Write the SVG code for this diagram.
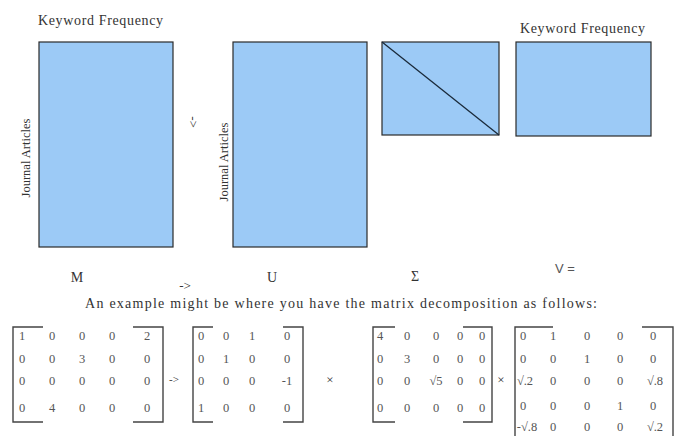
<svg xmlns="http://www.w3.org/2000/svg" width="680" height="436" viewBox="0 0 680 436">
<style>
.box{fill:#9ccaf6;stroke:#2a2a2a;stroke-width:1.2}
.lbl{font-family:"Liberation Serif",serif;fill:#333;font-size:14px}
.rot{font-family:"Liberation Serif",serif;fill:#333;font-size:12.5px}
.m text{font-family:"Liberation Serif",serif;fill:#555;font-size:12.5px;text-anchor:middle}
.br{fill:none;stroke:#444;stroke-width:1.4}
.big{font-family:"Liberation Serif",serif;fill:#333;font-size:13px;text-anchor:middle}
.nm{font-family:"Liberation Serif",serif;fill:#333;font-size:14px;text-anchor:middle}
</style>
<rect width="680" height="436" fill="#fff"/>
<g id="matrix-M-block">
<text class="lbl" x="38" y="25" textLength="125">Keyword Frequency</text>
<text class="rot" transform="translate(30,158) rotate(-90)" text-anchor="middle">Journal Articles</text>
<rect class="box" x="39" y="42" width="134" height="205"/>
</g>
<g id="matrix-U-block">
<text class="rot" transform="translate(228,162) rotate(-90)" text-anchor="middle">Journal Articles</text>
<rect class="box" x="233" y="42" width="134" height="205"/>
</g>
<g id="matrix-S-block">
<rect class="box" x="382" y="42" width="117" height="93"/>
<line x1="382" y1="42" x2="499" y2="135" stroke="#1a2a3a" stroke-width="1.3"/>
</g>
<g id="matrix-V-block">
<text class="lbl" x="520" y="33" textLength="125">Keyword Frequency</text>
<rect class="box" x="516" y="42" width="135" height="94"/>
</g>
<g id="connectors">
<text class="big" transform="translate(193,122) rotate(90)" dy="4">-&gt;</text>
<text class="big" x="185" y="290">-&gt;</text>
<text class="big" x="174" y="383" style="font-size:11px">-&gt;</text>
<text class="big" x="330" y="384">×</text>
<text class="big" x="501" y="384">×</text>
</g>
<g id="labels">
<text class="nm" x="77" y="282">M</text>
<text class="nm" x="272" y="282">U</text>
<text class="nm" x="415" y="281">Σ</text>
<text x="565" y="273" text-anchor="middle" font-family="Liberation Sans,sans-serif" font-size="13" fill="#555">V =</text>
<text class="lbl" x="85" y="308" textLength="512">An example might be where you have the matrix decomposition as follows:</text>
</g>
<g id="example-M">
<path class="br" d="M43,327 H13 V422 H43 M133,327 H163 V422 H133"/>
<g class="m">
<text x="22" y="340">1</text><text x="52" y="340">0</text><text x="82" y="340">0</text><text x="112" y="340">0</text><text x="147" y="340">2</text>
<text x="22" y="363">0</text><text x="52" y="363">0</text><text x="82" y="363">3</text><text x="112" y="363">0</text><text x="147" y="363">0</text>
<text x="22" y="385">0</text><text x="52" y="385">0</text><text x="82" y="385">0</text><text x="112" y="385">0</text><text x="147" y="385">0</text>
<text x="22" y="412">0</text><text x="52" y="412">4</text><text x="82" y="412">0</text><text x="112" y="412">0</text><text x="147" y="412">0</text>
</g>
</g>
<g id="example-U">
<path class="br" d="M213,327 H193 V422 H213 M283,327 H303 V422 H283"/>
<g class="m">
<text x="201" y="340">0</text><text x="226" y="340">0</text><text x="252" y="340">1</text><text x="287" y="340">0</text>
<text x="201" y="363">0</text><text x="226" y="363">1</text><text x="252" y="363">0</text><text x="287" y="363">0</text>
<text x="201" y="385">0</text><text x="226" y="385">0</text><text x="252" y="385">0</text><text x="287" y="385">-1</text>
<text x="201" y="412">1</text><text x="226" y="412">0</text><text x="252" y="412">0</text><text x="287" y="412">0</text>
</g>
</g>
<g id="example-S">
<path class="br" d="M395,327 H373 V422 H395 M463,327 H492 V422 H463"/>
<g class="m">
<text x="380" y="340">4</text><text x="407" y="340">0</text><text x="436" y="340">0</text><text x="460" y="340">0</text><text x="482" y="340">0</text>
<text x="380" y="363">0</text><text x="407" y="363">3</text><text x="436" y="363">0</text><text x="460" y="363">0</text><text x="482" y="363">0</text>
<text x="380" y="385">0</text><text x="407" y="385">0</text><text x="436" y="385">√5</text><text x="460" y="385">0</text><text x="482" y="385">0</text>
<text x="380" y="412">0</text><text x="407" y="412">0</text><text x="436" y="412">0</text><text x="460" y="412">0</text><text x="482" y="412">0</text>
</g>
</g>
<g id="example-V">
<path class="br" d="M553,327 H515 V440 M642,327 H673 V440"/>
<g class="m">
<text x="523" y="340">0</text><text x="553" y="340">1</text><text x="587" y="340">0</text><text x="620" y="340">0</text><text x="653" y="340">0</text>
<text x="523" y="363">0</text><text x="553" y="363">0</text><text x="587" y="363">1</text><text x="620" y="363">0</text><text x="653" y="363">0</text>
<text x="525" y="385">√.2</text><text x="553" y="385">0</text><text x="587" y="385">0</text><text x="620" y="385">0</text><text x="655" y="385">√.8</text>
<text x="523" y="410">0</text><text x="553" y="410">0</text><text x="587" y="410">0</text><text x="620" y="410">1</text><text x="653" y="410">0</text>
<text x="527" y="431">-√.8</text><text x="553" y="431">0</text><text x="587" y="431">0</text><text x="620" y="431">0</text><text x="655" y="431">√.2</text>
</g>
</g>
</svg>
